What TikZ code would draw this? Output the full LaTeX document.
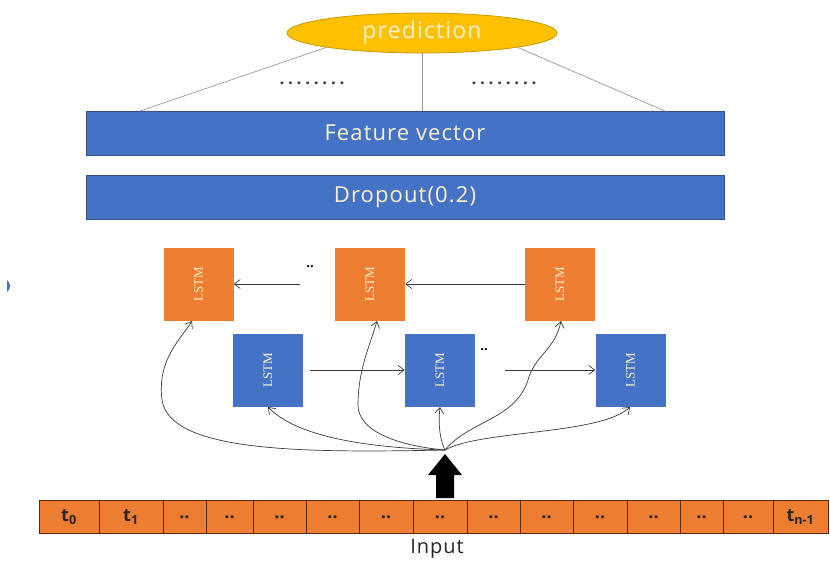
\documentclass[tikz,border=0pt]{standalone}
\usepackage{fontspec}
\setmainfont{Open Sans}
\newfontfamily\lstmfont{Liberation Serif}
\newfontfamily\spaced[LetterSpace=5]{Open Sans}
\newfontfamily\dotfont[LetterSpace=22]{Open Sans}
\usetikzlibrary{shapes.geometric,arrows.meta}
\definecolor{obblue}{HTML}{4472C4}
\definecolor{obblueb}{HTML}{2F528F}
\definecolor{oborange}{HTML}{ED7D31}
\definecolor{obyellow}{HTML}{FFC000}
\definecolor{obyellowb}{HTML}{C99A00}
\definecolor{lighttxt}{HTML}{FFF2CC}
\definecolor{cellb}{HTML}{5A2A10}
\definecolor{conn}{HTML}{3A3A3A}
\tikzset{
  bar/.style={draw=obblueb, fill=obblue, line width=0.8pt, minimum width=638pt, minimum height=44pt, inner sep=0pt, text=lighttxt, font=\spaced\fontsize{22}{24}\selectfont},
  olstm/.style={fill=oborange, minimum width=70pt, minimum height=73pt, inner sep=0pt, text=lighttxt, font=\lstmfont\fontsize{13}{14}\selectfont},
  blstm/.style={fill=obblue, minimum width=70pt, minimum height=73pt, inner sep=0pt, text=lighttxt, font=\lstmfont\fontsize{13}{14}\selectfont},
  cell/.style={draw=cellb, fill=oborange, line width=0.9pt, minimum height=33pt, inner sep=0pt, font=\bfseries\fontsize{18}{19}\selectfont, text=black!85},
  flow/.style={draw=conn, line width=0.7pt, -{Straight Barb[length=6pt,width=9pt]}},
  thin/.style={draw=gray!80, line width=0.7pt},
  dots/.style={font=\dotfont\bfseries\fontsize{17}{17}\selectfont, text=black!75}
}
\begin{document}
\begin{tikzpicture}[x=1pt,y=-1pt]
\useasboundingbox[fill=white] (0,0) rectangle (830,560);

% prediction
\node[ellipse, draw=obyellowb, fill=obyellow, line width=0.8pt, minimum width=270pt, minimum height=40pt, inner sep=0pt, text=lighttxt, font=\spaced\fontsize{23}{25}\selectfont] (pred) at (422,33) {prediction};

% bars
\node[bar] (fv) at (405,133) {Feature vector};
\node[bar] (drop) at (405,197) {Dropout(0.2)};

\coordinate (fl) at (140,111);
\coordinate (fr) at (665,111);
\draw[thin] (pred.south west) -- (fl);
\draw[thin] (pred.south) -- (pred.south |- fv.north);
\draw[thin] (pred.south east) -- (fr);
\node[dots] (d1) at (312,83) {........};
\node[dots] (d2) at (504,83) {........};

% LSTM rows
\node[olstm] (o1) at (198.5,284) {\rotatebox{90}{LSTM}};
\node[olstm] (o2) at (370,284) {\rotatebox{90}{LSTM}};
\node[olstm] (o3) at (560,284) {\rotatebox{90}{LSTM}};
\node[blstm] (b1) at (268,370) {\rotatebox{90}{LSTM}};
\node[blstm] (b2) at (440,370) {\rotatebox{90}{LSTM}};
\node[blstm] (b3) at (630.5,370) {\rotatebox{90}{LSTM}};

\coordinate (oa) at (300,284);
\coordinate (ba) at (310,370);
\coordinate (bb) at (505,370);
\draw[flow] (o3.west) -- (o2.east);
\draw[flow] (oa) -- (o1.east);
\draw[flow] (ba) -- (b2.west);
\draw[flow] (bb) -- (b3.west);
\node[font=\bfseries\fontsize{13}{13}\selectfont] (dd1) at (310,267) {..};
\node[font=\bfseries\fontsize{13}{13}\selectfont] (dd2) at (484,350) {..};

% hub and curves
\coordinate (hub) at (445,450);
\draw[flow] (hub) .. controls (300,453) and (170,452) .. (162,400) .. controls (157,360) and (180,340) .. (192,321);
\draw[flow] (hub) .. controls (380,448) and (300,440) .. (268,407);
\draw[flow] (hub) .. controls (400,446) and (358,432) .. (358,405) .. controls (358,370) and (370,345) .. (377,321);
\draw[flow] (hub) .. controls (440,440) and (438,425) .. (440,407);
\draw[flow] (hub) .. controls (470,420) and (515,420) .. (528,380) .. controls (535,355) and (555,350) .. (561,321);
\draw[flow] (hub) .. controls (480,430) and (600,435) .. (630,407);

% thick arrow
\fill[black] (436,498) -- (436,475) -- (428,475) -- (445,454) -- (462,475) -- (454,475) -- (454,498) -- cycle;

% input cells
\foreach \a/\b/\t [count=\i] in {39/99/{t\textsubscript{0}},99/163/{t\textsubscript{1}},163/206/..,206/253/..,253/306/..,306/359/..,359/413/..,413/467/..,467/520/..,520/573/..,573/627/..,627/680/..,680/723/..,723/773/..,773/828/{t\textsubscript{n-1}}}{
  \node[cell, minimum width={(\b-\a)*1pt}] (c\i) at ({(\a+\b)/2},517) {\t};
}
\node[font=\spaced\fontsize{20}{22}\selectfont, text=black!85] (inp) at (437,549) {Input};

% small blue artifact
\fill[obblue] (7,280) .. controls (11,283) and (11,289) .. (7,292) -- cycle;
\end{tikzpicture}
\end{document}
